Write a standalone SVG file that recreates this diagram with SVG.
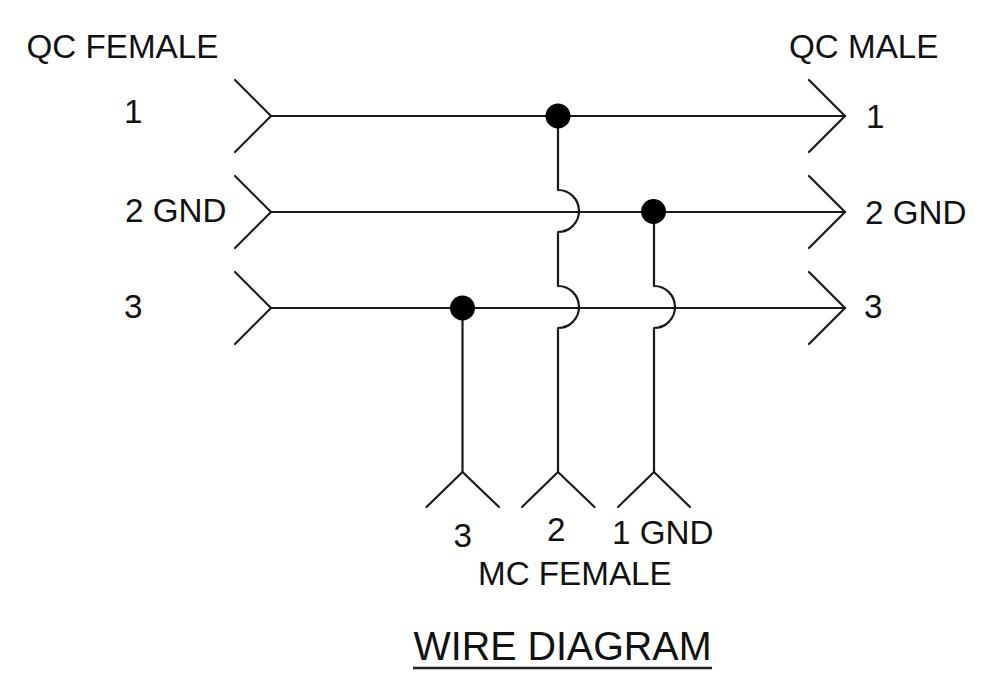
<svg xmlns="http://www.w3.org/2000/svg" width="994" height="688" viewBox="0 0 994 688">
<style>
.w{fill:none;stroke:#1a1a1a;stroke-width:2.200;stroke-linecap:round;stroke-linejoin:round}
.d{fill:#000}
text{font-family:"Liberation Sans",Arial,sans-serif;font-size:33.200px;fill:#111}
.t{font-size:40px}
</style>
<rect width="994" height="688" fill="#fff"/>
<g id="connectors">
<path class="w" d="M271 116H845M271 212H845M271 308H845"/>
<path class="w" d="M558 116V190A21 21 0 0 1 558 232V286A21 21 0 0 1 558 328V472"/>
<path class="w" d="M654 212V286A21 21 0 0 1 654 328V472"/>
<path class="w" d="M462.500 308V472"/>
</g>
<g id="qc-female-1"><path class="w" d="M235 80L271 116L235 152"/><text x="124" y="123">1</text></g>
<g id="qc-female-2"><path class="w" d="M235 176L271 212L235 248"/><text x="125" y="221.500">2 GND</text></g>
<g id="qc-female-3"><path class="w" d="M235 272L271 308L235 344"/><text x="124" y="318">3</text></g>
<g id="qc-male-1"><path class="w" d="M809 80L845 116L809 152"/><text x="866" y="127.500">1</text></g>
<g id="qc-male-2"><path class="w" d="M809 176L845 212L809 248"/><text x="865" y="223.500">2 GND</text></g>
<g id="qc-male-3"><path class="w" d="M809 272L845 308L809 344"/><text x="864" y="317.500">3</text></g>
<g id="mc-female-3"><path class="w" d="M426.500 507L462.500 472L499 507"/><text x="453.500" y="546.500">3</text></g>
<g id="mc-female-2"><path class="w" d="M522 507L558 472L594.500 507"/><text x="547" y="540.500">2</text></g>
<g id="mc-female-1"><path class="w" d="M618 507L654 472L690 507"/><text x="612" y="543.500">1 GND</text></g>
<g id="junction-1"><circle class="d" cx="558" cy="116" r="12.500"/></g>
<g id="junction-2"><circle class="d" cx="653.500" cy="211.500" r="12.500"/></g>
<g id="junction-3"><circle class="d" cx="462.500" cy="308" r="12.500"/></g>
<g id="labels">
<text x="26.500" y="58">QC FEMALE</text>
<text x="789" y="58">QC MALE</text>
<text x="478" y="584.500">MC FEMALE</text>
<text class="t" x="413.500" y="660" textLength="298" lengthAdjust="spacingAndGlyphs">WIRE DIAGRAM</text>
<path d="M413 668H712" fill="none" stroke="#222" stroke-width="2.500"/>
</g>
</svg>
